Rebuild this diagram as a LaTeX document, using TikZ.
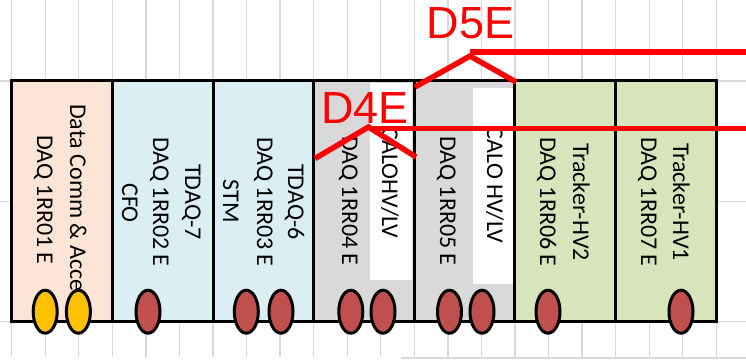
\documentclass[tikz,border=0pt]{standalone}
\usepackage{fontspec}
\setmainfont{Carlito}
\newfontfamily\tagfont{Liberation Sans}
\usepackage{tikz}
\usetikzlibrary{shapes.geometric}
\definecolor{cellgrid}{HTML}{D9D9D9}
\definecolor{rackpeach}{HTML}{FCE4D6}
\definecolor{rackblue}{HTML}{DAEEF3}
\definecolor{rackgrey}{HTML}{D9D9D9}
\definecolor{rackgreen}{HTML}{D8E4BC}
\definecolor{plugred}{HTML}{C0504D}
\definecolor{plugyellow}{HTML}{FFC000}

\begin{document}
\begin{tikzpicture}[x=1pt,y=-1pt,
  cell/.style={draw=cellgrid,line width=1.3pt},
  rack/.style={draw=black,line width=3pt,minimum width=100.65pt,minimum height=241.2pt,inner sep=0pt},
  calo/.style={fill=white,inner sep=0pt},
  lab/.style={rotate=-90,anchor=base,inner sep=0pt,font=\fontsize{24}{29}\selectfont},
  plug/.style={ellipse,draw=black,line width=3pt,minimum width=24pt,minimum height=43pt,inner sep=0pt},
  dline/.style={draw=red,line width=5.5pt},
  dtag/.style={anchor=base,inner sep=0pt,text=red,font=\tagfont\fontsize{45}{54}\selectfont}]
\useasboundingbox (0,0) rectangle (746,361);
% sheet cells behind the racks
\foreach \k in {0,...,21} \draw[cell] ({11.7+33.55*\k},0) -- ({11.7+33.55*\k},357);
\foreach \y in {81,201.7,321.7} \draw[cell] (0,\y) -- (746,\y);
\draw[cell] (401,358) -- (746,358);
% seven racks, each three cells wide
\foreach \i/\c in {1/rackpeach,2/rackblue,3/rackblue,4/rackgrey,5/rackgrey,6/rackgreen,7/rackgreen}
  \node[rack,fill=\c] (rr\i) at ({11.7+100.65*(\i-0.5)},201.1) {};
\node[calo,minimum width=42pt,minimum height=197pt] (cal4) at (391,181.5) {};
\node[calo,minimum width=40pt,minimum height=196pt] (cal5) at (493,186) {};
% rack labels, read top to bottom
\foreach \l/\x/\y/\t in {l1a/37/200/{DAQ 1RR01 E},l1b/70/198/{Data Comm \& Acce},
    l2a/122/203/{CFO},l2b/153/202/{DAQ 1RR02 E},l2c/185/202/{TDAQ-7},
    l3a/223/201/{STM},l3b/257/202/{DAQ 1RR03 E},l3c/288/202/{TDAQ-6},
    l4a/342/201/{DAQ 1RR04 E},l4b/382/183/{CALOHV/LV},
    l5a/440/201/{DAQ 1RR05 E},l5b/487/185/{CALO HV/LV},
    l6a/540/202/{DAQ 1RR06 E},l6b/573/202/{Tracker-HV2},
    l7a/641/202/{DAQ 1RR07 E},l7b/673/202/{Tracker-HV1}}
  \node[lab] (\l) at (\x,\y) {\t};
% plugs on the floor line
\foreach \p/\x/\c in {1/45.2/plugyellow,2/78.4/plugyellow,3/148/plugred,4/246.3/plugred,
    5/281/plugred,6/350.8/plugred,7/383/plugred,8/449.5/plugred,9/482/plugred,
    10/548/plugred,11/681/plugred}
  \node[plug,fill=\c] (p\p) at (\x,311.7) {};
% cable trays D5E and D4E
\coordinate (d5l) at (415,87);
\coordinate (d5t) at (470,56);
\coordinate (d5r) at (516,82);
\coordinate (d5s) at (470,52);
\coordinate (d5e) at (746,52);
\draw[dline] (d5l) -- (d5t) -- (d5r);
\draw[dline] (d5s) -- (d5e);
\coordinate (d4l) at (315,158.5);
\coordinate (d4t) at (368.5,127);
\coordinate (d4r) at (416,157);
\coordinate (d4s) at (369,128.3);
\coordinate (d4e) at (746,128.3);
\draw[dline] (d4l) -- (d4t) -- (d4r);
\draw[dline] (d4s) -- (d4e);
\node[dtag] (d5) at (470.5,38) {D5E};
\node[dtag] (d4) at (365,123.3) {D4E};
\end{tikzpicture}
\end{document}
